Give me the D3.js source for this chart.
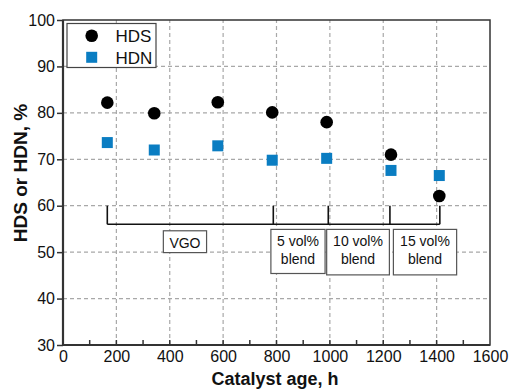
<!DOCTYPE html>
<html>
<head>
<meta charset="utf-8">
<script src="https://cdn.jsdelivr.net/npm/d3@7/dist/d3.min.js"></script>
<style>
  html, body { margin: 0; padding: 0; background: #fff; }
  svg { display: block; font-family: "Liberation Sans", Arial, sans-serif; }
</style>
</head>
<body>
<svg id="chart" width="511" height="389"></svg>
<script>
// ---- data ----
const catalystAge = [166, 342, 580, 784, 988, 1229, 1410];
const hdsValues   = [82.2, 79.9, 82.3, 80.1, 78.0, 71.0, 62.1];
const hdnAge      = [166, 342, 580, 784, 988, 1229, 1410];
const hdnValues   = [73.6, 72.0, 72.9, 69.8, 70.2, 67.6, 66.5];
const xTicks = [0, 200, 400, 600, 800, 1000, 1200, 1400, 1600];
const yTicks = [30, 40, 50, 60, 70, 80, 90, 100];
const seriesNames = ["HDS", "HDN"];
const bracketAges = [166, 788, 994, 1225, 1412];
const feedLabels = [["VGO"], ["5 vol%", "blend"], ["10 vol%", "blend"], ["15 vol%", "blend"]];

// ---- layout ----
const W = 511, H = 389;
const m = { left: 63, right: 21, top: 20, bottom: 44 };
const svg = d3.select("#chart");
const x = d3.scaleLinear().domain([0, 1600]).range([m.left, W - m.right]);
const y = d3.scaleLinear().domain([30, 100]).range([H - m.bottom, m.top]);
const blue = "#0a7dc2";
const gridColor = "#a8a8a8";

// grid
svg.append("g").selectAll("line").data(xTicks.slice(1, -1)).join("line")
  .attr("x1", d => x(d)).attr("x2", d => x(d))
  .attr("y1", y(30)).attr("y2", y(100))
  .attr("stroke", gridColor).attr("stroke-width", 1.2).attr("stroke-dasharray", "4,3");
svg.append("g").selectAll("line").data(yTicks.slice(1, -1)).join("line")
  .attr("x1", x(0)).attr("x2", x(1600))
  .attr("y1", d => y(d)).attr("y2", d => y(d))
  .attr("stroke", gridColor).attr("stroke-width", 1.2).attr("stroke-dasharray", "4,3");

// axes
const xAxis = d3.axisBottom(x).tickValues(xTicks).tickFormat(d3.format("d")).tickSize(0).tickPadding(6);
const gx = svg.append("g").attr("transform", `translate(0,${y(30)})`).call(xAxis);
gx.select(".domain").remove();
gx.selectAll("text").attr("font-size", 16).attr("fill", "#111").attr("font-family", "Liberation Sans, Arial, sans-serif");

// x ticks inward (major + minor)
const xMinor = d3.range(100, 1600, 100);
svg.append("g").selectAll("line").data(xMinor).join("line")
  .attr("x1", d => x(d)).attr("x2", d => x(d))
  .attr("y1", y(30)).attr("y2", y(30) - 5)
  .attr("stroke", "#333").attr("stroke-width", 1.5);

const yAxis = d3.axisLeft(y).tickValues(yTicks).tickFormat(d3.format("d")).tickSize(6).tickPadding(2);
const gy = svg.append("g").attr("transform", `translate(${x(0)},0)`).call(yAxis);
gy.select(".domain").remove();
gy.selectAll("line").attr("stroke", "#333").attr("stroke-width", 1.5);
gy.selectAll("text").attr("font-size", 16).attr("fill", "#111").attr("font-family", "Liberation Sans, Arial, sans-serif");

// frame
svg.append("rect").attr("x", x(0)).attr("y", y(100))
  .attr("width", x(1600) - x(0)).attr("height", y(30) - y(100))
  .attr("fill", "none").attr("stroke", "#333").attr("stroke-width", 1.5);
svg.append("path")
  .attr("d", `M${x(0)},${y(100)}V${y(30)}H${x(1600)}`)
  .attr("fill", "none").attr("stroke", "#333").attr("stroke-width", 2.2);

// bracket
const bY = 56, bTop = 60;
svg.append("line")
  .attr("x1", x(bracketAges[0])).attr("x2", x(bracketAges[bracketAges.length - 1]))
  .attr("y1", y(bY)).attr("y2", y(bY))
  .attr("stroke", "#111").attr("stroke-width", 1.6);
svg.append("g").selectAll("line").data(bracketAges).join("line")
  .attr("x1", d => x(d)).attr("x2", d => x(d))
  .attr("y1", y(bY)).attr("y2", y(bTop))
  .attr("stroke", "#111").attr("stroke-width", 1.6);

// feed label boxes (layout in data units)
const boxes = [
  { x0: 376, x1: 538, y0: 54.6, y1: 49.9 },
  { x0: 779, x1: 982, y0: 54.9, y1: 45.4 },
  { x0: 988, x1: 1223, y0: 54.9, y1: 45.1 },
  { x0: 1238, x1: 1475, y0: 54.9, y1: 45.1 }
];
boxes.forEach((b, i) => {
  const g = svg.append("g");
  g.append("rect")
    .attr("x", x(b.x0)).attr("y", y(b.y0))
    .attr("width", x(b.x1) - x(b.x0)).attr("height", y(b.y1) - y(b.y0))
    .attr("fill", "#fff").attr("stroke", "#555").attr("stroke-width", 1.2);
  const cx = (x(b.x0) + x(b.x1)) / 2;
  const lines = feedLabels[i];
  lines.forEach((t, j) => {
    g.append("text").attr("x", cx).attr("y", y(b.y0) + 17 + j * 18)
      .attr("text-anchor", "middle").attr("font-size", 14).attr("fill", "#111").text(t);
  });
});

// points
svg.append("g").selectAll("circle").data(catalystAge).join("circle")
  .attr("cx", (d) => x(d)).attr("cy", (d, i) => y(hdsValues[i]))
  .attr("r", 6.3).attr("fill", "#000");
const sq = 11;
svg.append("g").selectAll("rect").data(hdnAge).join("rect")
  .attr("x", d => x(d) - sq / 2).attr("y", (d, i) => y(hdnValues[i]) - sq / 2)
  .attr("width", sq).attr("height", sq).attr("fill", blue);

// legend
const lg = svg.append("g");
lg.append("rect").attr("x", 67).attr("y", 23.5).attr("width", 89).attr("height", 44)
  .attr("fill", "#fff").attr("stroke", "#444").attr("stroke-width", 1.2);
lg.append("circle").attr("cx", 91.7).attr("cy", 35.7).attr("r", 6.3).attr("fill", "#000");
lg.append("rect").attr("x", 91.7 - sq / 2).attr("y", 57.3 - sq / 2).attr("width", sq).attr("height", sq).attr("fill", blue);
lg.append("text").attr("x", 115.5).attr("y", 41.8).attr("font-size", 17).attr("fill", "#111").text(seriesNames[0]);
lg.append("text").attr("x", 115.5).attr("y", 63.5).attr("font-size", 17).attr("fill", "#111").text(seriesNames[1]);

// axis titles
svg.append("text").attr("x", 275).attr("y", 385)
  .attr("text-anchor", "middle").attr("font-size", 18).attr("font-weight", "bold").attr("fill", "#111")
  .text("Catalyst age, h");
svg.append("text")
  .attr("transform", `translate(27,${173}) rotate(-90)`)
  .attr("text-anchor", "middle").attr("font-size", 19).attr("font-weight", "bold").attr("fill", "#111")
  .text("HDS or HDN, %");
</script>
</body>
</html>
